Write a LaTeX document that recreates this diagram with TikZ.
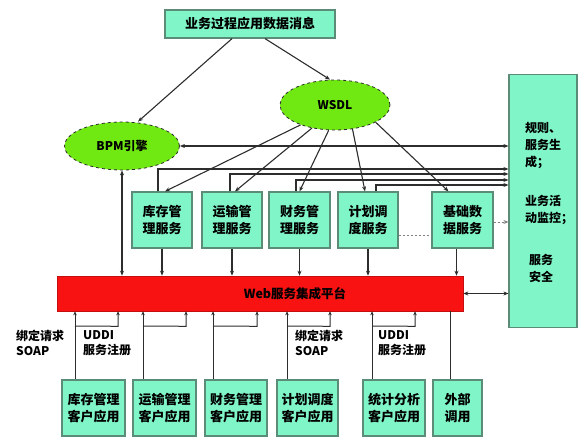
\documentclass[tikz,border=0pt]{standalone}
\usepackage{fontspec}
\setmainfont{Noto Sans CJK SC}
\usetikzlibrary{shapes.geometric,arrows.meta,calc}
\definecolor{aqua}{RGB}{128,246,200}
\definecolor{aquaedge}{RGB}{90,140,120}
\definecolor{lime}{RGB}{112,232,18}
\definecolor{barred}{RGB}{248,18,18}
\definecolor{ln}{RGB}{45,45,45}
\tikzset{
  abox/.style={draw=aquaedge,line width=1.2pt,fill=aqua,inner sep=0pt,align=center,
    font=\bfseries\fontsize{13}{17}\selectfont},
  oval/.style={ellipse,draw=ln,dashed,line width=0.8pt,fill=lime,inner sep=0pt,
    font=\bfseries\fontsize{12}{14}\selectfont},
  conn/.style={draw=ln,line width=1.1pt,-{Stealth[length=5pt,width=4pt]}},
  bconn/.style={draw=ln,line width=1.1pt,{Stealth[length=5pt,width=4pt]}-{Stealth[length=5pt,width=4pt]}},
  thin/.style={draw=ln,line width=1pt},
  lab/.style={anchor=north west,inner sep=0pt,align=left,font=\bfseries\fontsize{12}{15}\selectfont},
  rtxt/.style={anchor=north west,inner sep=0pt,align=left,font=\bfseries\fontsize{12}{17}\selectfont},
}
\begin{document}
\begin{tikzpicture}[x=1pt,y=-1pt]
\useasboundingbox (0,0) rectangle (584,441);
% nodes
\node[abox,minimum width=170pt,minimum height=28pt] (top) at (250,24) {业务过程应用数据消息};
\node[oval,minimum width=110pt,minimum height=50pt] (wsdl) at (335,105) {WSDL};
\node[oval,minimum width=115pt,minimum height=48pt] (bpm) at (122,146) {BPM引擎};
\node[abox,minimum width=68pt,minimum height=253pt] (right) at (543,201) {};
\node[rtxt] (r1) at (525,122) {规则、\\服务生\\成；};
\node[rtxt] (r2) at (525,195) {业务活\\动监控；};
\node[rtxt] (r3) at (529,254) {服务\\安全};
\node[abox,minimum width=60pt,minimum height=56pt] (s1) at (162,220) {库存管\\理服务};
\node[abox,minimum width=60pt,minimum height=56pt] (s2) at (232,220) {运输管\\理服务};
\node[abox,minimum width=61pt,minimum height=56pt] (s3) at (299.5,220) {财务管\\理服务};
\node[abox,minimum width=60pt,minimum height=56pt] (s4) at (368,220) {计划调\\度服务};
\node[abox,minimum width=61pt,minimum height=56pt] (s5) at (462.5,220) {基础数\\据服务};
\node[fill=barred,draw=barred!80!black,line width=0.6pt,minimum width=406pt,minimum height=35pt,inner sep=0pt] (bar) at (260,293.5) {};
\node[inner sep=0pt,font=\bfseries\fontsize{12.5}{14}\selectfont] (bartxt) at (295,293.5) {Web服务集成平台};
\node[abox,minimum width=63pt,minimum height=56pt] (c1) at (93.5,408) {库存管理\\客户应用};
\node[abox,minimum width=63pt,minimum height=56pt] (c2) at (164.5,408) {运输管理\\客户应用};
\node[abox,minimum width=62pt,minimum height=56pt] (c3) at (236,408) {财务管理\\客户应用};
\node[abox,minimum width=61pt,minimum height=56pt] (c4) at (307.5,408) {计划调度\\客户应用};
\node[abox,minimum width=62pt,minimum height=56pt] (c5) at (394,408) {统计分析\\客户应用};
\node[abox,minimum width=49pt,minimum height=56pt] (c6) at (457.5,408) {外部\\调用};
\node[lab] (l1) at (16,330) {绑定请求\\SOAP};
\node[lab] (l2) at (83,330) {UDDI\\服务注册};
\node[lab] (l3) at (295,330) {绑定请求\\SOAP};
\node[lab] (l4) at (378,330) {UDDI\\服务注册};
% top connectors
\draw[conn] ([xshift=-18pt]top.south) -- ([xshift=16pt]bpm.north);
\draw[conn] ([xshift=15pt]top.south) -- ([xshift=-5pt]wsdl.north);
% BPM
\draw[bconn] (bpm.south) -- (bpm.south |- bar.north);
\draw[bconn] (bpm.east) -- (bpm.east -| right.west);
% WSDL to services
\draw[conn] (wsdl.210) -- ([xshift=3pt]s1.north);
\draw[conn] (wsdl.225) -- ([xshift=3pt]s2.north);
\draw[conn] (wsdl.256) -- (s3.north);
\draw[conn] (wsdl.306) -- ([xshift=-3pt]s4.north);
\draw[conn] (wsdl.337) -- ([xshift=-14pt]s5.north);
% services to right box
\draw[conn] ([xshift=-4pt]s1.north) |- ([yshift=32pt]right.west);
\draw[conn] ([xshift=-2pt]s2.north) |- ([yshift=27pt]right.west);
\draw[conn] ([xshift=-3.5pt]s3.north) |- ([yshift=21pt]right.west);
\draw[conn] ([xshift=8pt]s4.north) |- ([yshift=16pt]right.west);
% services to bar
\draw[conn] (s1.south) -- (s1.south |- bar.north);
\draw[conn] (s2.south) -- (s2.south |- bar.north);
\draw[conn] (s3.south) -- (s3.south |- bar.north);
\draw[conn] (s4.south) -- (s4.south |- bar.north);
\draw[conn] ([xshift=-6pt]s5.south) -- ([xshift=-6pt]s5.south |- bar.north);
% dotted and right connections
\draw[gray,line width=1pt,dash pattern=on 2pt off 2pt] ([yshift=-15pt]s4.east) -- ([yshift=-15pt]s4.east -| s5.west);
\draw[gray,line width=1pt,dash pattern=on 2pt off 2pt,-{Stealth[length=5pt,width=4pt]}] ([yshift=-2pt]s5.east) -- ([yshift=-2pt]s5.east -| right.west);
\draw[bconn] (bar.east) -- (bar.east -| right.west);
% bar to clients
\foreach \c/\a/\b in {c1/-18.5/24.5, c2/-21.5/21.5, c3/-23/21, c4/-20.5/22.5, c5/-22/21}{
  \draw[thin,{Stealth[length=4pt,width=3.5pt]}-] ([xshift=\a pt]\c.north |- bar.south) -- ([xshift=\a pt]\c.north);
  \draw[thin,{Stealth[length=4pt,width=3.5pt]}-] ([xshift=\b pt]\c.north |- bar.south) -- ++(0,15) -- ([xshift=\a pt]\c.north |- 0,326);
}
\draw[thin] ([xshift=-7.5pt]c6.north |- bar.south) -- ([xshift=-7.5pt]c6.north);
\end{tikzpicture}
\end{document}
